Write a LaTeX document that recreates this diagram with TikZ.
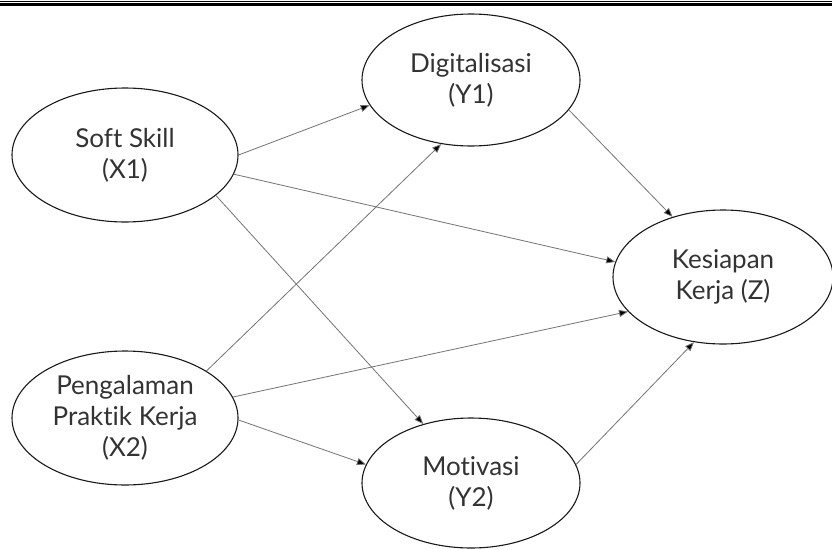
\documentclass[tikz,border=0pt]{standalone}
\usepackage{fontspec}
\setmainfont{Lato}[Ligatures={NoCommon}]
\usetikzlibrary{arrows.meta,shapes.geometric}
\begin{document}
\begin{tikzpicture}[x=1pt,y=-1pt,
  var/.style={draw=black!90, line width=1.1pt, ellipse, inner sep=0pt,
    text=black!80, align=center, font=\fontsize{26}{31}\selectfont},
  link/.style={draw=black!55, line width=0.8pt,
    -{Triangle[length=9pt,width=7pt,fill=black]}}]
\useasboundingbox (0,0) rectangle (832,549);
\draw[line width=0.8pt] (0,1) -- (832,1);
\draw[line width=2.2pt] (0,4.5) -- (832,4.5);
\node[var, minimum width=226pt, minimum height=134pt] (x1) at (125,155) {Soft Skill\\(X1)};
\node[var, minimum width=218pt, minimum height=132pt] (y1) at (471,80) {Digitalisasi\\(Y1)};
\node[var, minimum width=220pt, minimum height=134pt] (z) at (723,277) {Kesiapan\\Kerja (Z)};
\node[var, minimum width=226pt, minimum height=134pt] (x2) at (125,418) {Pengalaman\\Praktik Kerja\\(X2)};
\node[var, minimum width=218pt, minimum height=130pt] (y2) at (471,483) {Motivasi\\(Y2)};
\draw[link] (x1.east) -- (y1.194);
\draw[link] (x1.-10) -- (z.172);
\draw[link] (x1.-24.5) -- (y2.129);
\draw[link] (x2.30) -- (y1.245);
\draw[link] (x2.11) -- (z.200);
\draw[link] (x2.-1) -- (y2.170);
\draw[link] (y1.-17) -- (z.130);
\draw[link] (y2.10) -- (z.246);
\end{tikzpicture}
\end{document}
